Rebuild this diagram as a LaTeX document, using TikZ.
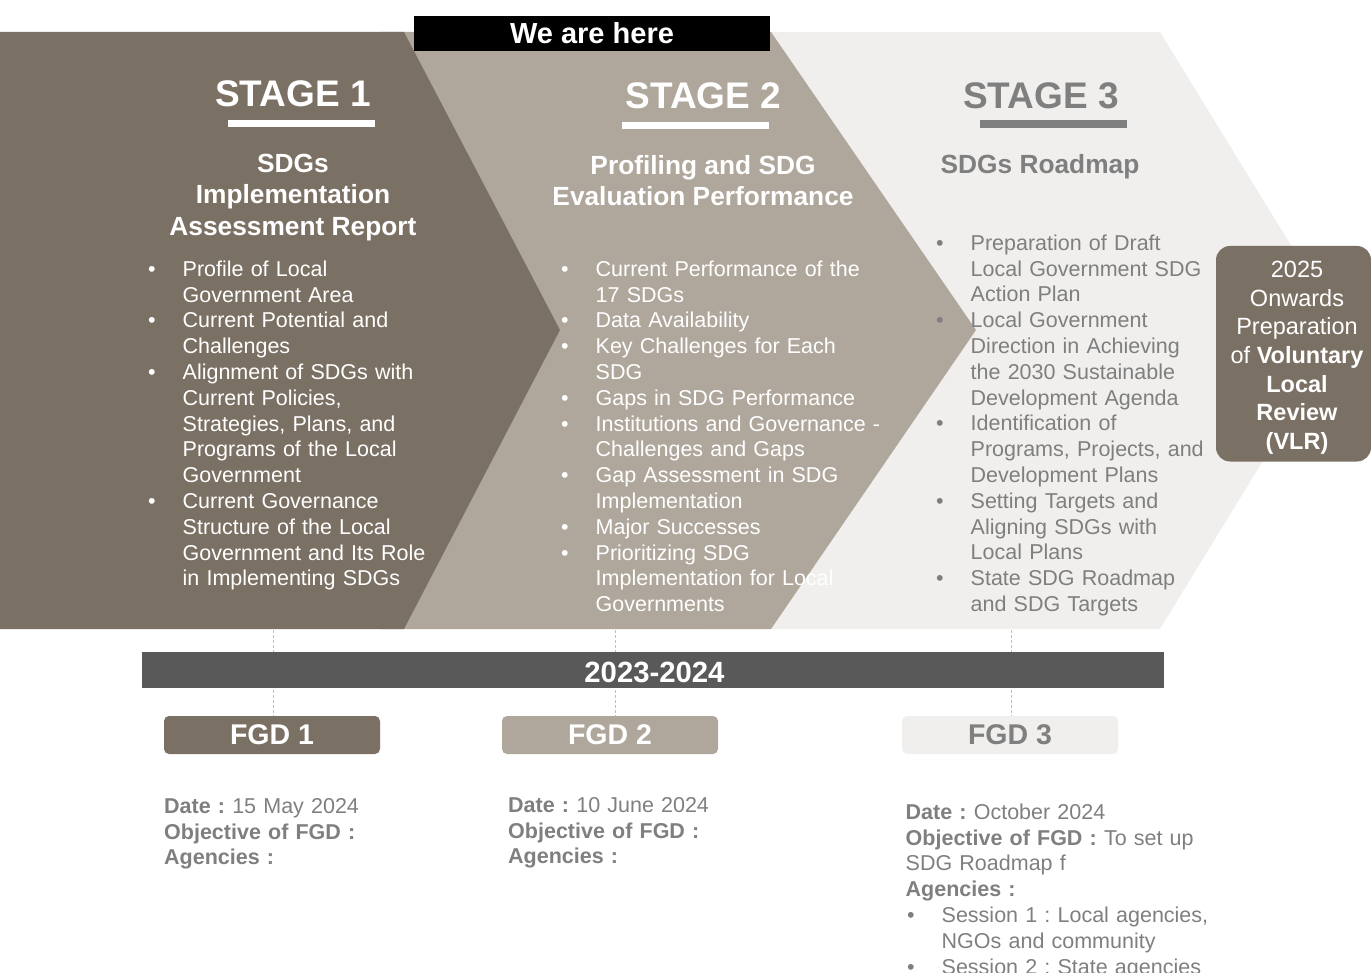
\documentclass[tikz,border=0pt]{standalone}
\usepackage{fontspec}
\setmainfont{Liberation Sans}
\frenchspacing
\definecolor{cBrown}{HTML}{7B7064}
\definecolor{cTaupe}{HTML}{AFA79C}
\definecolor{cLight}{HTML}{F0EFED}
\definecolor{cBar}{HTML}{595959}
\definecolor{cGray}{HTML}{7F7F7F}
\definecolor{cDash}{HTML}{BFBFBF}
\newcommand{\bitem}[1]{\hangindent=34.5pt\hangafter=1\noindent\strut\makebox[34.5pt][l]{•}#1\par}
\newcommand{\fitem}[1]{\hangindent=36pt\hangafter=1\noindent\strut\makebox[36pt][l]{\hspace{1.5pt}•}#1\par}
\tikzset{
  stagetitle/.style={anchor=base, inner sep=0pt, font=\bfseries\fontsize{37}{44}\selectfont},
  subtitle/.style={anchor=north, align=center, inner sep=0pt, font=\bfseries\fontsize{26.3}{31.5}\selectfont},
  blist/.style={anchor=north west, inner sep=0pt, text width=330pt, font=\fontsize{21.5}{25.8}\selectfont\frenchspacing, execute at begin node={\raggedright}},
  fgdbox/.style={minimum width=216pt, minimum height=38pt, inner sep=0pt, rounded corners=5pt, font=\bfseries\fontsize{28.5}{34}\selectfont},
  dashline/.style={draw=cDash, line width=1pt, dash pattern=on 3pt off 2pt},
}
\begin{document}
\begin{tikzpicture}[x=1pt,y=-1pt]
\useasboundingbox (0,0) rectangle (1371,973);
% stage chevrons
\fill[cLight] (700,32) -- (1160,32) -- (1343,330) -- (1160,629) -- (700,629) -- cycle;
\fill[cTaupe] (380,32) -- (771,32) -- (976,330) -- (771,629) -- (380,629) -- cycle;
\fill[cBrown] (0,32) -- (404,32) -- (560,330) -- (404,629) -- (0,629) -- cycle;
% we are here
\node[fill=black, minimum width=356pt, minimum height=35pt, inner sep=0pt, text=white, font=\bfseries\fontsize{29}{34}\selectfont] (here) at (592,33.5) {We are here};
% titles
\node[stagetitle, text=white] (t1) at (293,106.5) {STAGE 1};
\node[stagetitle, text=white] (t2) at (703.5,108.5) {STAGE 2};
\node[stagetitle, text=cGray] (t3) at (1041,108.3) {STAGE 3};
\fill[white] (228,120) rectangle (375,127.5);
\fill[white] (622,122) rectangle (769,129.5);
\fill[cGray] (980,120) rectangle (1127,127.7);
% subtitles
\node[subtitle, text=white] (st1) at (293,150) {\strut SDGs\\Implementation\\Assessment Report};
\node[subtitle, text=white] (st2) at (703,152) {\strut Profiling and SDG\\Evaluation Performance};
\node[subtitle, text=cGray] (st3) at (1040,151) {\strut SDGs Roadmap};
% lists
\node[blist, text=white] (l1) at (148,258) {\bitem{Profile of Local\newline Government Area}\bitem{Current Potential and\newline Challenges}\bitem{Alignment of SDGs with\newline Current Policies,\newline Strategies, Plans, and\newline Programs of the Local\newline Government}\bitem{Current Governance\newline Structure of the Local\newline Government and Its Role\newline in Implementing SDGs}};
\node[blist, text=white] (l2) at (561,258) {\bitem{Current Performance of the\newline 17 SDGs}\bitem{Data Availability}\bitem{Key Challenges for Each\newline SDG}\bitem{Gaps in SDG Performance}\bitem{Institutions and Governance -\newline Challenges and Gaps}\bitem{Gap Assessment in SDG\newline Implementation}\bitem{Major Successes}\bitem{Prioritizing SDG\newline Implementation for Local\newline Governments}};
\node[blist, text=cGray] (l3) at (936,232) {\bitem{Preparation of Draft\newline Local Government SDG\newline Action Plan}\bitem{Local Government\newline Direction in Achieving\newline the 2030 Sustainable\newline Development Agenda}\bitem{Identification of\newline Programs, Projects, and\newline Development Plans}\bitem{Setting Targets and\newline Aligning SDGs with\newline Local Plans}\bitem{State SDG Roadmap\newline and SDG Targets}};
% VLR box
\node[fill=cBrown, rounded corners=14pt, minimum width=155pt, minimum height=215.5pt, inner sep=0pt] (vlr) at (1293.5,353.75) {};
\node[anchor=north, align=center, inner sep=0pt, text=white, font=\fontsize{23.5}{28.67}\selectfont] (vlrtext) at (1297,257.2) {\strut 2025\\Onwards\\Preparation\\of \textbf{Voluntary}\\\textbf{Local}\\\textbf{Review}\\\textbf{(VLR)}};
% FGD boxes
\node[fgdbox, fill=cBrown, text=white] (fgd1) at (272,735) {\raisebox{-1.5pt}{FGD 1}};
\node[fgdbox, fill=cTaupe, text=white] (fgd2) at (610,735) {\raisebox{-1.5pt}{FGD 2}};
\node[fgdbox, fill=cLight, text=cGray] (fgd3) at (1010,735) {\raisebox{-1.5pt}{FGD 3}};
% connectors
\coordinate (s1) at (273,630);
\coordinate (s2) at (615.5,630);
\coordinate (s3) at (1011,630);
\draw[dashline] (s1) -- (s1 |- fgd1.north);
\draw[dashline] (s2) -- (s2 |- fgd2.north);
\draw[dashline] (s3) -- (s3 |- fgd3.north);
% timeline bar
\node[fill=cBar, minimum width=1022pt, minimum height=36pt, inner sep=0pt] (bar) at (653,670) {};
\node[anchor=base, inner sep=0pt, text=white, font=\bfseries\fontsize{29.3}{34}\selectfont] (years) at (654.5,682) {2023-2024};
% details
\node[blist, text=cGray] (d1) at (164,795) {\noindent\strut\textbf{Date :} 15 May 2024\newline\textbf{Objective of FGD :}\newline\textbf{Agencies :}};
\node[blist, text=cGray] (d2) at (508,794) {\noindent\strut\textbf{Date :} 10 June 2024\newline\textbf{Objective of FGD :}\newline\textbf{Agencies :}};
\node[blist, text=cGray] (d3) at (905.5,801) {\noindent\strut\textbf{Date :} October 2024\newline\textbf{Objective of FGD :} To set up\newline SDG Roadmap f\newline\textbf{Agencies :}\par\fitem{Session 1 : Local agencies,\newline NGOs and community}\fitem{Session 2 : State agencies}};
\end{tikzpicture}
\end{document}
